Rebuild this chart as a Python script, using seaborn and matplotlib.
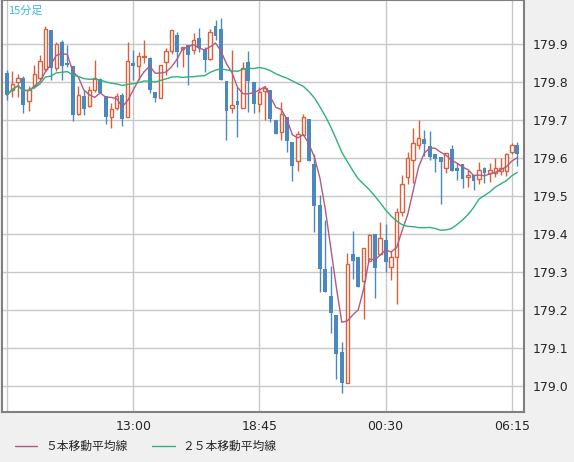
import numpy as np
import pandas as pd
import matplotlib
matplotlib.use("Agg")
import matplotlib.pyplot as plt
from matplotlib.lines import Line2D
import seaborn as sns

# 15-minute candles, 07:15 .. 06:30
opens = [179.825, 179.78, 179.80, 179.81, 179.75, 179.79, 179.81, 179.835, 179.937, 179.838,
         179.905, 179.85, 179.842, 179.715, 179.763, 179.737, 179.78, 179.807, 179.763, 179.707,
         179.733, 179.766, 179.707, 179.85, 179.843, 179.866, 179.864, 179.774, 179.759, 179.854,
         179.882, 179.924, 179.886, 179.897, 179.884, 179.917, 179.886, 179.86, 179.947, 179.941,
         179.803, 179.733, 179.75, 179.733, 179.852, 179.80, 179.742, 179.777, 179.78, 179.70,
         179.67, 179.707, 179.643, 179.593, 179.661, 179.703, 179.584, 179.476, 179.307, 179.236,
         179.188, 179.09, 179.009, 179.348, 179.339, 179.276, 179.33, 179.40, 179.347, 179.384,
         179.314, 179.34, 179.459, 179.551, 179.596, 179.634, 179.65, 179.632, 179.61, 179.602,
         179.575, 179.625, 179.573, 179.584, 179.549, 179.555, 179.545, 179.573, 179.56, 179.56,
         179.567, 179.566, 179.615, 179.634]
closes = [179.766, 179.795, 179.81, 179.74, 179.78, 179.82, 179.855, 179.94, 179.836, 179.90,
          179.843, 179.845, 179.713, 179.766, 179.73, 179.78, 179.81, 179.772, 179.709, 179.728,
          179.763, 179.703, 179.855, 179.843, 179.868, 179.868, 179.779, 179.759, 179.845, 179.882,
          179.937, 179.88, 179.893, 179.871, 179.912, 179.89, 179.858, 179.932, 179.922, 179.805,
          179.724, 179.741, 179.741, 179.836, 179.803, 179.742, 179.774, 179.784, 179.703, 179.663,
          179.715, 179.646, 179.579, 179.663, 179.707, 179.593, 179.474, 179.307, 179.249, 179.192,
          179.085, 179.009, 179.322, 179.328, 179.26, 179.364, 179.399, 179.31, 179.391, 179.327,
          179.339, 179.457, 179.533, 179.599, 179.641, 179.654, 179.636, 179.602, 179.597, 179.589,
          179.614, 179.567, 179.567, 179.545, 179.555, 179.539, 179.57, 179.56, 179.568, 179.575,
          179.573, 179.612, 179.634, 179.612]
highs = [179.832, 179.83, 179.82, 179.815, 179.79, 179.845, 179.87, 179.947, 179.937, 179.905,
         179.91, 179.897, 179.842, 179.79, 179.78, 179.79, 179.858, 179.81, 179.763, 179.744,
         179.772, 179.772, 179.906, 179.884, 179.879, 179.91, 179.866, 179.774, 179.845, 179.89,
         179.937, 179.932, 179.893, 179.897, 179.928, 179.943, 179.893, 179.941, 179.963, 179.968,
         179.803, 179.884, 179.788, 179.854, 179.882, 179.80, 179.787, 179.79, 179.78, 179.70,
         179.747, 179.707, 179.643, 179.671, 179.716, 179.703, 179.61, 179.502, 179.436, 179.317,
         179.188, 179.117, 179.351, 179.407, 179.339, 179.364, 179.40, 179.40, 179.431, 179.426,
         179.356, 179.468, 179.555, 179.617, 179.678, 179.70, 179.674, 179.672, 179.61, 179.602,
         179.614, 179.634, 179.586, 179.584, 179.568, 179.555, 179.59, 179.577, 179.586, 179.60,
         179.60, 179.614, 179.641, 179.643]
lows = [179.753, 179.76, 179.76, 179.72, 179.725, 179.785, 179.805, 179.83, 179.805, 179.83,
        179.805, 179.84, 179.698, 179.713, 179.713, 179.735, 179.775, 179.77, 179.69, 179.68,
        179.726, 179.684, 179.707, 179.805, 179.805, 179.85, 179.772, 179.748, 179.759, 179.818,
        179.875, 179.84, 179.84, 179.792, 179.875, 179.88, 179.827, 179.858, 179.911, 179.805,
        179.647, 179.718, 179.656, 179.733, 179.722, 179.72, 179.722, 179.699, 179.694, 179.663,
        179.647, 179.615, 179.54, 179.567, 179.661, 179.593, 179.405, 179.247, 179.247, 179.141,
        179.018, 178.982, 179.009, 179.282, 179.26, 179.176, 179.33, 179.233, 179.345, 179.301,
        179.279, 179.215, 179.447, 179.532, 179.535, 179.625, 179.606, 179.595, 179.564, 179.479,
        179.56, 179.567, 179.542, 179.522, 179.525, 179.517, 179.533, 179.535, 179.538, 179.551,
        179.555, 179.553, 179.612, 179.579]
tick_labels = ["", "13:00", "18:45", "00:30", "06:15"]
tick_pos = [0, 23, 46, 69, 92]
y_ticks = [179.0, 179.1, 179.2, 179.3, 179.4, 179.5, 179.6, 179.7, 179.8, 179.9]

UP = "#d9603b"
DOWN = "#4a88c0"
MA5_C = "#b25a82"
MA25_C = "#2db37a"

df = pd.DataFrame({"o": opens, "h": highs, "l": lows, "c": closes})
df["i"] = np.arange(len(df))
df["ma5"] = df["c"].rolling(5, min_periods=1).mean()
df["ma25"] = df["c"].rolling(25, min_periods=1).mean()
up = df["c"] >= df["o"]

sns.set_style("white")
plt.rcParams["font.family"] = ["DejaVu Sans", "Noto Sans CJK JP"]

fig = plt.figure(figsize=(5.74, 4.62), dpi=100, facecolor="#f0f0f0")
ax = fig.add_axes([2 / 574, 50 / 462, 522 / 574, 412 / 462])
ax.set_facecolor("white")

ax.vlines(df["i"][up], df["l"][up], df["h"][up], color=UP, lw=1, zorder=2)
ax.vlines(df["i"][~up], df["l"][~up], df["h"][~up], color=DOWN, lw=1, zorder=2)
ax.bar(df["i"][up], (df["c"] - df["o"])[up].clip(lower=0.002), bottom=df["o"][up],
       width=0.62, facecolor="white", edgecolor=UP, lw=1, zorder=3)
ax.bar(df["i"][~up], (df["o"] - df["c"])[~up], bottom=df["c"][~up],
       width=0.72, color=DOWN, lw=0, zorder=3)

sns.lineplot(data=df, x="i", y="ma5", color=MA5_C, lw=1, ax=ax, zorder=4)
sns.lineplot(data=df, x="i", y="ma25", color=MA25_C, lw=1, ax=ax, zorder=4)

ax.set_xlim(-0.9, 94.2)
ax.set_ylim(178.932, 180.016)
ax.set_xticks(tick_pos)
ax.set_xticklabels(tick_labels, fontsize=9)
ax.set_yticks(y_ticks)
ax.set_yticklabels([f"{v:.1f}" for v in y_ticks], fontsize=9)
ax.yaxis.tick_right()
ax.tick_params(length=0, pad=6)
ax.set_xlabel("")
ax.set_ylabel("")
ax.grid(True, color="#c8c8c8", lw=1)
ax.set_axisbelow(True)
for s in ["left", "right", "bottom", "top"]:
    ax.spines[s].set_color("#808080")
    ax.spines[s].set_linewidth(1.5)

ax.text(0.012, 0.985, "15分足", transform=ax.transAxes, color="#3cb4e0", fontsize=8,
        va="top", ha="left", family=["Noto Sans CJK JP", "DejaVu Sans"])

fig.add_artist(Line2D([15 / 574, 37 / 574], [16 / 462, 16 / 462], color=MA5_C, lw=1))
fig.text(45 / 574, 16 / 462, "５本移動平均線", fontsize=8.5, va="center",
         family=["Noto Sans CJK JP", "DejaVu Sans"])
fig.add_artist(Line2D([152 / 574, 175 / 574], [16 / 462, 16 / 462], color=MA25_C, lw=1))
fig.text(182 / 574, 16 / 462, "２５本移動平均線", fontsize=8.5, va="center",
         family=["Noto Sans CJK JP", "DejaVu Sans"])

fig.savefig("out.png", dpi=100, facecolor=fig.get_facecolor())
